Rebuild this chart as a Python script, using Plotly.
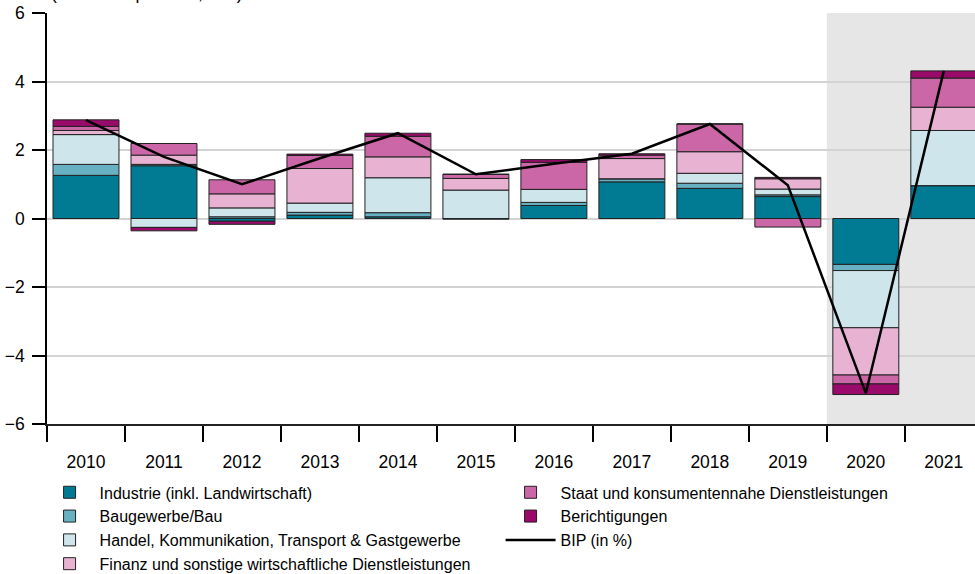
import plotly.graph_objects as go

years = ["2010", "2011", "2012", "2013", "2014", "2015", "2016", "2017", "2018", "2019", "2020", "2021"]

industrie = [1.26, 1.54, -0.08, 0.10, 0.05, -0.02, 0.38, 1.07, 0.88, 0.64, -1.34, 0.96]
bau = [0.32, 0.04, 0.05, 0.08, 0.12, 0.00, 0.09, 0.09, 0.15, 0.05, -0.18, 0.00]
handel = [0.87, -0.26, 0.26, 0.27, 1.02, 0.83, 0.38, 0.00, 0.29, 0.17, -1.67, 1.61]
finanz = [0.12, 0.27, 0.41, 1.01, 0.61, 0.34, 0.00, 0.59, 0.63, 0.30, -1.38, 0.68]
staat = [0.12, 0.34, 0.41, 0.38, 0.60, 0.12, 0.79, 0.10, 0.81, -0.25, -0.26, 0.85]
berichtigungen = [0.19, -0.10, -0.09, 0.04, 0.09, 0.00, 0.08, 0.04, 0.00, 0.04, -0.31, 0.21]
bip = [2.87, 1.80, 1.00, 1.76, 2.49, 1.29, 1.60, 1.89, 2.76, 0.97, -5.10, 4.31]

y_ticks = [-6, -4, -2, 0, 2, 4, 6]
y_tick_labels = ["\u22126", "\u22124", "\u22122", "0", "2", "4", "6"]

series = [
    ("Industrie (inkl. Landwirtschaft)", industrie, "#007B93", 1),
    ("Baugewerbe/Bau", bau, "#67B1C3", 3),
    ("Handel, Kommunikation, Transport & Gastgewerbe", handel, "#CDE5EB", 5),
    ("Finanz und sonstige wirtschaftliche Dienstleistungen", finanz, "#E8B3D2", 7),
    ("Staat und konsumentennahe Dienstleistungen", staat, "#CB67A7", 2),
    ("Berichtigungen", berichtigungen, "#990A6B", 4),
]

FONT = "Liberation Sans, Arial, Helvetica, sans-serif"

fig = go.Figure()
for name, vals, color, rank in series:
    fig.add_trace(go.Bar(
        x=years, y=vals, name=name, legendrank=rank,
        marker=dict(color=color, line=dict(color="#222222", width=1)),
        width=0.846,
    ))

fig.add_trace(go.Scatter(
    x=years, y=bip, name="BIP (in %)", mode="lines", legendrank=6,
    line=dict(color="black", width=2.5),
))

fig.add_shape(type="rect", xref="x", yref="y", x0=9.5, x1=11.6, y0=-6, y1=6,
              fillcolor="#E6E6E6", line=dict(width=0), layer="below")

fig.add_annotation(text="(in Prozentpunkten, real)", xref="paper", yref="paper",
                   x=0.002, y=1, xanchor="left", yanchor="bottom", yshift=8,
                   showarrow=False, font=dict(size=17.5, color="black", family=FONT))

fig.update_layout(
    width=975, height=574,
    margin=dict(l=46.5, r=0, t=13.4, b=150.2, autoexpand=False),
    barmode="relative",
    bargap=0.154,
    plot_bgcolor="white", paper_bgcolor="white",
    font=dict(family=FONT, size=17.5, color="black"),
    showlegend=True,
    legend=dict(
        orientation="h", x=-0.008, y=-0.125, xanchor="left", yanchor="top",
        entrywidth=396, entrywidthmode="pixels", traceorder="normal",
        itemwidth=50, font=dict(size=16, family=FONT, color="black"),
        bgcolor="rgba(0,0,0,0)",
    ),
    xaxis=dict(
        type="category", range=[-0.5, 11.4], tickson="boundaries",
        ticks="outside", ticklen=16, tickwidth=1.5, tickcolor="black",
        showline=True, linecolor="#222222", linewidth=2,
        showgrid=False, ticklabelstandoff=21, fixedrange=True,
    ),
    yaxis=dict(
        range=[-6, 6], tickvals=y_ticks, ticktext=y_tick_labels,
        ticks="outside", ticklen=13, tickwidth=1.5, tickcolor="black",
        showline=True, linecolor="black", linewidth=1.5,
        showgrid=True, gridcolor="#D3D3D3", gridwidth=1.5,
        zeroline=False, ticklabelstandoff=4,
    ),
)

fig.write_html("out.html", config={"displayModeBar": False},
               post_script="document.body.style.margin='0';document.body.style.overflow='hidden';")
